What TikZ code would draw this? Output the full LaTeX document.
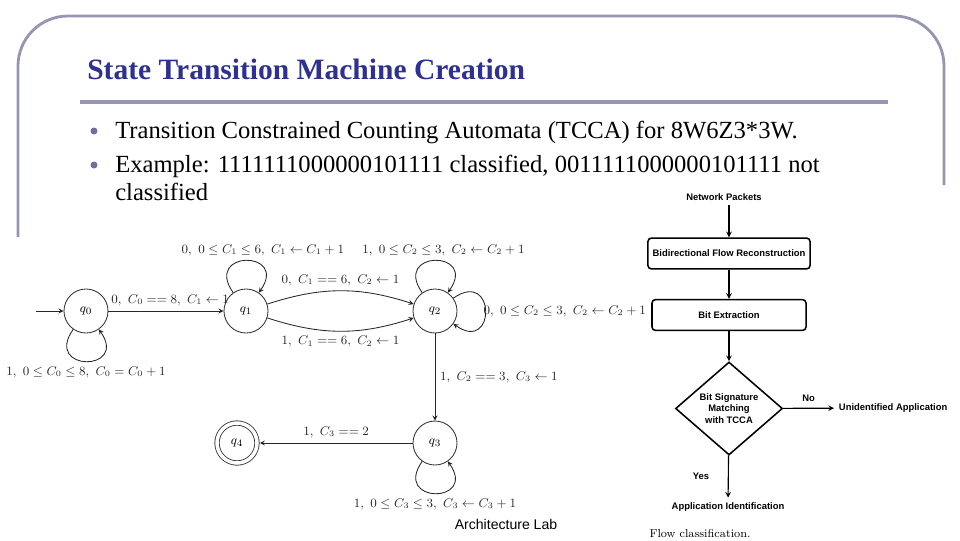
\documentclass[tikz,border=0pt]{standalone}
\usepackage{fontspec}
\usetikzlibrary{shapes.geometric}

\newfontfamily\bodyfont{Liberation Serif}
\newfontfamily\flowfont{Liberation Sans}

\definecolor{framegray}{RGB}{148,150,180}
\definecolor{titleblue}{RGB}{46,49,146}
\definecolor{bulletgray}{RGB}{112,112,160}

\begin{document}
\begin{tikzpicture}[x=0.025cm, y=0.025cm,
    stnode/.style={circle, draw=black!80, line width=0.6pt, minimum size=1.1cm,
      inner sep=0pt, font=\fontsize{9.4}{11}\selectfont},
    autoedge/.style={black!85, line width=0.6pt, -stealth},
    lbl/.style={font=\fontsize{8.8}{10}\selectfont, text=black!85},
    every loop/.style={looseness=5.2},
    loopbelow/.style={out=-125, in=-55, loop},
    loopabove/.style={out=125, in=55, loop},
    loopright/.style={out=35, in=-35, loop},
    bodytext/.style={anchor=base west, inner sep=0pt,
      font=\bodyfont\fontsize{17.5}{19.8}\selectfont},
    flowbox/.style={draw, rounded corners=2.5pt, line width=1.1pt,
      minimum width=3.85cm, minimum height=0.77cm,
      font=\flowfont\bfseries\fontsize{6.7}{8}\selectfont},
    flowtext/.style={font=\flowfont\bfseries\fontsize{6.7}{8}\selectfont},
    flowarrow/.style={line width=0.8pt, -stealth}]

  \useasboundingbox (0,0) rectangle (960,-540);

  %% ---- Slide frame ----
  \draw[framegray, line width=2pt, rounded corners=1.25cm]
    (18,-237) -- (18,-16) -- (944,-16) -- (944,-185);
  \draw[framegray, line width=2.8pt] (80,-102) -- (888,-102);

  %% Title
  \node[anchor=base west, inner sep=0pt, text=titleblue,
    font=\bodyfont\bfseries\fontsize{21}{24}\selectfont]
    (title) at (87,-79) {State Transition Machine Creation};

  %% Bullets
  \fill[bulletgray] (94,-131) circle (3.5);
  \fill[bulletgray] (94,-165) circle (3.5);
  \node[bodytext] (itemone) at (115,-138)
    {Transition Constrained Counting Automata (TCCA) for 8W6Z3*3W.};
  \node[bodytext] (itemtwo) at (115,-172)
    {Example: 1111111000000101111 classified, 0011111000000101111 not};
  \node[bodytext] (itemtwob) at (115,-200) {classified};

  %% ---- Automaton states ----
  \node[stnode] (q0) at (86,-311)  {$q_0$};
  \node[stnode] (q1) at (246,-311) {$q_1$};
  \node[stnode] (q2) at (435,-311) {$q_2$};
  \node[stnode] (q3) at (435,-443) {$q_3$};
  \node[stnode, minimum size=1cm, double, double distance=2.5pt, outer sep=2pt]
    (q4) at (237,-443) {$q_4$};
  \coordinate (start) at (36,-311);

  %% Transitions
  \draw[autoedge] (start) -- (q0);
  \draw[autoedge] (q0) to[loopbelow]
    node[lbl, below] {$1,\ 0 \le C_0 \le 8,\ C_0 = C_0 + 1$} (q0);
  \draw[autoedge] (q0) --
    node[lbl, above, xshift=3] {$0,\ C_0 == 8,\ C_1 \leftarrow 1$} (q1);
  \draw[autoedge] (q1) to[loopabove]
    node[lbl, above, xshift=12] {$0,\ 0 \le C_1 \le 6,\ C_1 \leftarrow C_1 + 1$} (q1);
  \draw[autoedge] (q1) to[bend left=18]
    node[lbl, above] {$0,\ C_1 == 6,\ C_2 \leftarrow 1$} (q2);
  \draw[autoedge] (q1) to[bend right=18]
    node[lbl, below] {$1,\ C_1 == 6,\ C_2 \leftarrow 1$} (q2);
  \draw[autoedge] (q2) to[loopabove]
    node[lbl, above, xshift=6] {$1,\ 0 \le C_2 \le 3,\ C_2 \leftarrow C_2 + 1$} (q2);
  \draw[autoedge] (q2) to[loopright]
    node[lbl, right, xshift=-5] {$0,\ 0 \le C_2 \le 3,\ C_2 \leftarrow C_2 + 1$} (q2);
  \draw[autoedge] (q2) --
    node[lbl, right] {$1,\ C_2 == 3,\ C_3 \leftarrow 1$} (q3);
  \draw[autoedge] (q3) --
    node[lbl, above] {$1,\ C_3 == 2$} (q4);
  \draw[autoedge] (q3) to[loopbelow]
    node[lbl, below] {$1,\ 0 \le C_3 \le 3,\ C_3 \leftarrow C_3 + 1$} (q3);

  %% ---- Flow classification chart ----
  \node[flowtext] (netpk) at (724,-197) {Network Packets};
  \node[flowbox] (recon) at (729,-253.5) {Bidirectional Flow Reconstruction};
  \node[flowbox] (bitext) at (729,-315) {Bit Extraction};
  \node[diamond, draw, line width=1.1pt, inner sep=0pt, aspect=1.15,
    minimum width=2.675cm, minimum height=2.325cm, align=center,
    font=\flowfont\bfseries\fontsize{6.7}{8.1}\selectfont]
    (match) at (729,-408.5) {Bit Signature\\Matching\\with TCCA};
  \node[flowtext, anchor=west] (unident) at (834,-408) {Unidentified Application};
  \node[flowtext] (appid) at (728,-507) {Application Identification};

  \draw[flowarrow] (recon.north |- netpk.south) -- (recon.north);
  \draw[flowarrow] (recon) -- (bitext);
  \draw[flowarrow] (bitext) -- (match);
  \draw[flowarrow] (match) -- node[flowtext, above=1pt] {No} (unident);
  \draw[flowarrow] (match) -- node[flowtext, left=10pt] {Yes} (appid);

  \node[font=\fontsize{8.2}{10}\selectfont] (caption) at (700,-533) {Flow classification.};

  %% Footer
  \node[font=\flowfont\fontsize{10}{12}\selectfont] (lab) at (506,-524) {Architecture Lab};

\end{tikzpicture}
\end{document}
